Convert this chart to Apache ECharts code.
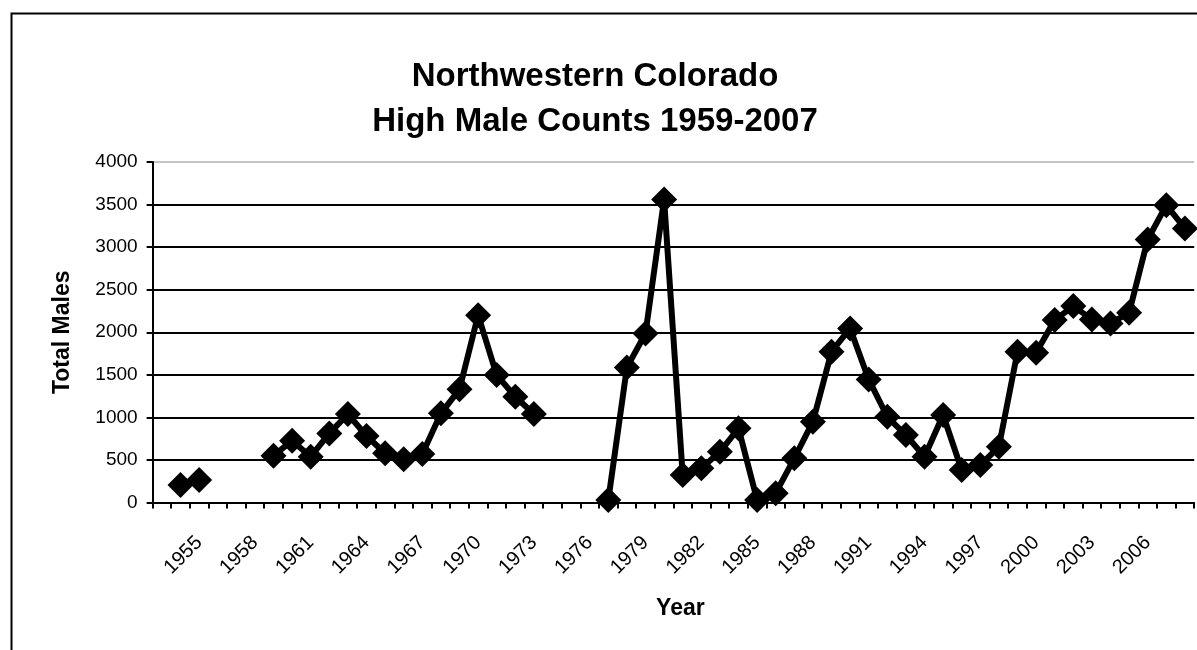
<!DOCTYPE html>
<html>
<head>
<meta charset="utf-8">
<title>Northwestern Colorado High Male Counts</title>
<script src="https://cdn.jsdelivr.net/npm/echarts@6/dist/echarts.min.js"></script>
<style>
  html, body { margin: 0; padding: 0; background: #fff; }
  #chart { width: 1197px; height: 650px; }
</style>
</head>
<body>
<div id="chart"></div>
<script>
// Survey years on the category axis (one slot per year)
const years = [];
for (let y = 1953; y <= 2008; y++) years.push(String(y));

// High male counts per year; null where no count was recorded
const totalMales = [
  null, 205, 264, null, null, null,            // 1953-1958
  549, 726, 538, 812, 1039, 781, 578, 507,     // 1959-1966
  569, 1047, 1329, 2201, 1497, 1242, 1039,     // 1967-1973
  null, null, null,                            // 1974-1976
  29, 1587, 1986, 3560, 323, 401, 596, 871,    // 1977-1984
  29, 110, 519, 949, 1771, 2045, 1446, 1007,   // 1985-1992
  792, 538, 1027, 381, 440, 655, 1771, 1760,   // 1993-2000
  2143, 2307, 2151, 2104, 2229, 3090, 3493, 3219 // 2001-2008
];

// Value axis ticks
const yTicks = [0, 500, 1000, 1500, 2000, 2500, 3000, 3500, 4000];

const FONT = "'Liberation Sans', Arial, sans-serif";

const chart = echarts.init(document.getElementById('chart'), null, { renderer: 'canvas' });

// gridlines are black except the top edge of the plot, which is light grey
const gridColors = yTicks.map((v, i) => i === yTicks.length - 1 ? '#c4c4c4' : '#000');

chart.setOption({
  animation: false,
  backgroundColor: '#fff',
  graphic: [{
    type: 'rect',
    left: 9, top: 11,
    shape: { width: 1300, height: 1000 },
    style: { fill: 'none', stroke: '#000', lineWidth: 2 },
    silent: true
  }],
  title: {
    text: 'Northwestern Colorado\nHigh Male Counts 1959-2007',
    left: 590,
    top: 49,
    textAlign: 'center',
    textStyle: {
      fontFamily: FONT, fontSize: 33, fontWeight: 'bold', color: '#000', lineHeight: 45
    }
  },
  grid: { left: 152.6, right: 2.8, top: 162, bottom: 147.5, containLabel: false },
  xAxis: {
    type: 'category',
    data: years,
    boundaryGap: true,
    name: 'Year',
    nameLocation: 'middle',
    nameGap: 95,
    nameTextStyle: {
      fontFamily: FONT, fontSize: 23, fontWeight: 'bold', color: '#000',
      padding: [0, 0, 0, 14]
    },
    axisLine: { show: true, lineStyle: { color: '#000', width: 2 } },
    axisTick: { show: true, interval: 0, length: 6, lineStyle: { color: '#000', width: 2 } },
    axisLabel: {
      interval: (idx) => idx >= 2 && (idx - 2) % 3 === 0,
      rotate: 45,
      margin: 37,
      fontFamily: FONT, fontSize: 20, color: '#000'
    },
    splitLine: { show: false }
  },
  yAxis: {
    type: 'value',
    min: 0, max: 4000, interval: 500,
    name: 'Total Males',
    nameLocation: 'middle',
    nameGap: 78,
    nameRotate: 90,
    nameTextStyle: { fontFamily: FONT, fontSize: 23, fontWeight: 'bold', color: '#000' },
    axisLine: { show: true, lineStyle: { color: '#000', width: 2 } },
    axisTick: { show: true, length: 6, lineStyle: { color: '#000', width: 2 } },
    axisLabel: {
      margin: 15,
      fontFamily: FONT, fontSize: 19, color: '#000',
      formatter: (v) => yTicks.includes(v) ? String(v) : ''
    },
    splitLine: { show: true, lineStyle: { color: gridColors, width: 2 } }
  },
  series: [{
    type: 'line',
    data: totalMales,
    connectNulls: false,
    symbol: 'diamond',
    symbolSize: 26,
    showAllSymbol: true,
    lineStyle: { color: '#000', width: 6 },
    itemStyle: { color: '#000', borderWidth: 0 }
  }]
});
</script>
</body>
</html>
